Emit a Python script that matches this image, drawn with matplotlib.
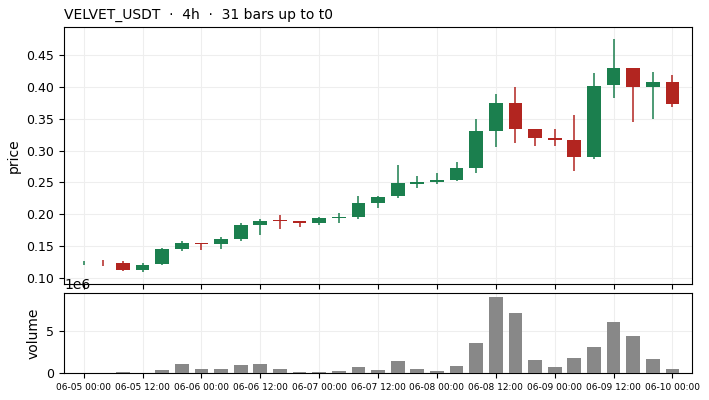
import matplotlib
matplotlib.use("Agg")
import matplotlib.pyplot as plt
import matplotlib.dates as mdates
import numpy as np
import pandas as pd

# 31 bars of 4h candles
times = pd.date_range("2025-06-05 00:00", periods=31, freq="4h")
opens = [0.1225, 0.1255, 0.123, 0.113, 0.122, 0.145, 0.1545, 0.1535, 0.161, 0.1826,
         0.1905, 0.189, 0.186, 0.194, 0.1955, 0.217, 0.228, 0.2482, 0.250, 0.2545,
         0.273, 0.331, 0.374, 0.3335, 0.320, 0.3165, 0.2905, 0.4025, 0.430, 0.3995, 0.407]
highs = [0.126, 0.129, 0.1265, 0.123, 0.147, 0.158, 0.1555, 0.164, 0.187, 0.193,
         0.199, 0.189, 0.196, 0.202, 0.229, 0.229, 0.2775, 0.260, 0.2645, 0.282,
         0.350, 0.388, 0.399, 0.3345, 0.3345, 0.3565, 0.422, 0.4755, 0.430, 0.4235, 0.418]
lows = [0.120, 0.119, 0.111, 0.109, 0.120, 0.1425, 0.144, 0.145, 0.158, 0.1675,
        0.1775, 0.1805, 0.1835, 0.187, 0.193, 0.210, 0.2255, 0.242, 0.2475, 0.253,
        0.2645, 0.305, 0.3115, 0.3065, 0.3065, 0.2675, 0.2875, 0.383, 0.3455, 0.350, 0.3685]
closes = [0.1228, 0.1252, 0.113, 0.121, 0.145, 0.1545, 0.1535, 0.1605, 0.1825, 0.190,
          0.1895, 0.186, 0.1935, 0.195, 0.217, 0.2275, 0.2485, 0.2502, 0.254, 0.273,
          0.3305, 0.374, 0.334, 0.320, 0.317, 0.2905, 0.402, 0.430, 0.3995, 0.407, 0.373]
volumes = [0.02, 0.03, 0.12, 0.02, 0.35, 1.05, 0.47, 0.47, 0.94, 1.05,
           0.47, 0.12, 0.12, 0.23, 0.70, 0.35, 1.41, 0.47, 0.23, 0.82,
           3.52, 9.02, 7.15, 1.52, 0.70, 1.76, 3.05, 5.98, 4.34, 1.64, 0.47]
volumes = [v * 1e6 for v in volumes]

UP = "#1b7f4e"
DOWN = "#b22520"

x = mdates.date2num(times.to_pydatetime())
step = 4 / 24.0
width = 0.7 * step

fig = plt.figure(figsize=(7.09, 4.0), dpi=100)
ax = fig.add_axes([0.0903, 0.29, 0.8858, 0.6425])
axv = fig.add_axes([0.0903, 0.0675, 0.8858, 0.2], sharex=ax)

for xi, o, h, l, c in zip(x, opens, highs, lows, closes):
    col = UP if c >= o else DOWN
    ax.vlines(xi, l, h, color=col, linewidth=1.1, zorder=2)
    ax.bar(xi, c - o, bottom=o, width=width, color=col, linewidth=0, zorder=3)

axv.bar(x, volumes, width=width, color="#888888", linewidth=0, zorder=3)

ax.set_xlim(x[0] - step, x[-1] + step)
ax.set_ylabel("price", fontsize=10)
axv.set_ylabel("volume", fontsize=10)
ax.set_title("VELVET_USDT  \u00b7  4h  \u00b7  31 bars up to t0", loc="left", fontsize=10)

for a in (ax, axv):
    a.grid(True, color="#eeeeee", linewidth=0.8, zorder=0)
    a.set_axisbelow(True)
    a.tick_params(axis="y", labelsize=9)

axv.xaxis.set_major_locator(mdates.HourLocator(byhour=[0, 12]))
axv.xaxis.set_major_formatter(mdates.DateFormatter("%m-%d %H:%M"))
axv.tick_params(axis="x", labelsize=6.5)
plt.setp(ax.get_xticklabels(), visible=False)

fig.savefig("out.png", dpi=100)
